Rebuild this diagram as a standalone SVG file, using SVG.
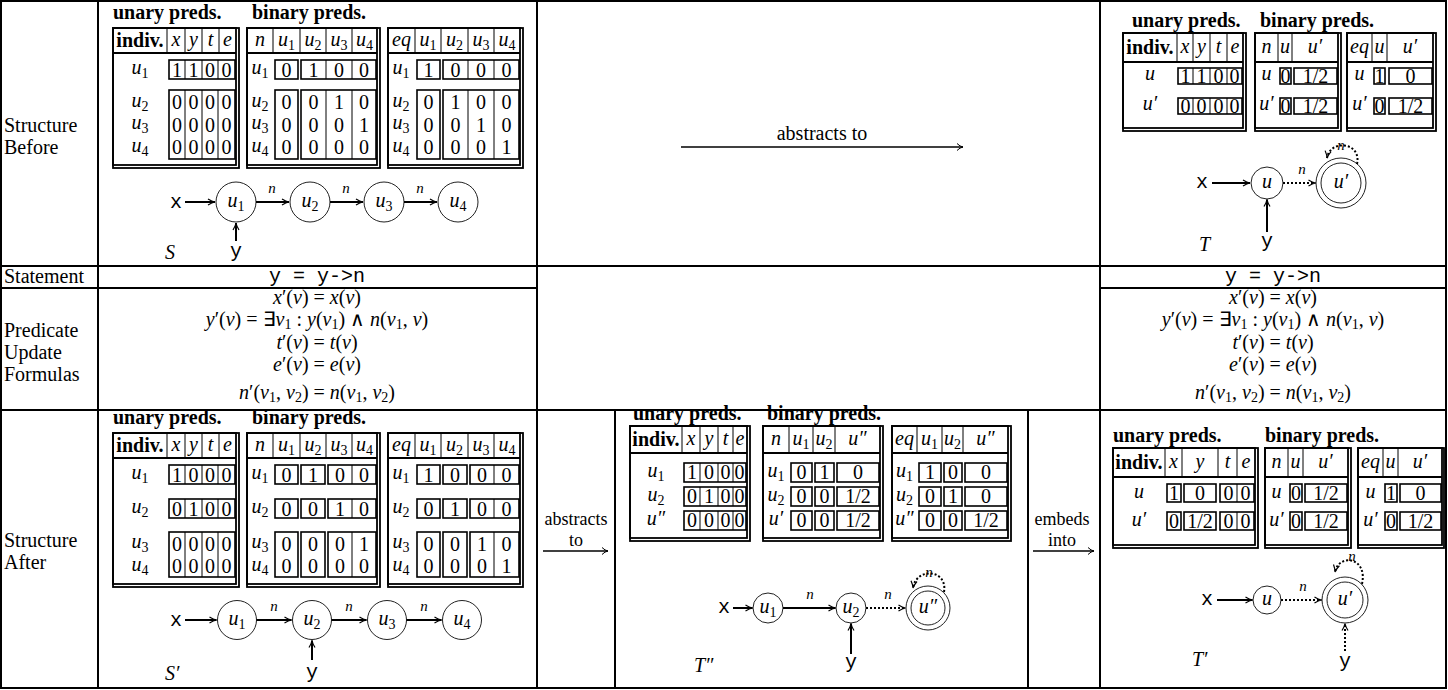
<svg xmlns="http://www.w3.org/2000/svg" width="1448" height="690" viewBox="0 0 1448 690">
<defs>
<style>
text{font-family:"Liberation Serif","Times New Roman",serif;font-size:20px;fill:#000}
.b{font-weight:bold}
.i{font-style:italic}
.s{font-style:normal;font-size:70%}
.m{font-family:"Liberation Mono","Courier New",monospace}
.c{text-anchor:middle}
.grid{stroke:#000;stroke-width:2;fill:none}
.tb{stroke:#000;stroke-width:1.8;fill:none}
.th{stroke:#000;stroke-width:1;fill:none}
.cell{stroke:#000;stroke-width:1.6;fill:none}
.node{stroke:#222;stroke-width:1;fill:#fff}
.edge{stroke:#000;stroke-width:2;fill:none;marker-end:url(#ah)}
.dot{stroke:#000;stroke-width:2;fill:none;stroke-dasharray:2 2;marker-end:url(#ah)}
.arr{stroke:#000;stroke-width:1.3;fill:none;marker-end:url(#ah2)}
.lbl{font-style:italic;font-size:15px;text-anchor:middle}
.tl{font-size:18px;text-anchor:middle}
</style>
<marker id="ah" markerUnits="userSpaceOnUse" markerWidth="10" markerHeight="10" viewBox="0 0 10 10" refX="9" refY="5" orient="auto"><path d="M2,2 Q6,4.5 9,5 Q6,5.5 2,8" fill="none" stroke="#000" stroke-width="1.2" stroke-dasharray="none"/></marker>
<marker id="ah2" markerUnits="userSpaceOnUse" markerWidth="10" markerHeight="10" viewBox="0 0 10 10" refX="9" refY="5" orient="auto"><path d="M3,1.5 Q6,4.5 9,5 Q6,5.5 3,8.5" fill="none" stroke="#000" stroke-width="1"/></marker>
</defs>
<rect width="1448" height="690" fill="#fff"/>

<g id="grid" class="grid">
<rect x="1" y="1" width="1445" height="687"/>
<path d="M98,1V688M537,1V688M1100,1V688M615,410V688M1028,410V688M1,266H1446M1,288H537M1100,288H1446M1,410H1446"/>
</g>

<g id="row-labels">
<text x="4" y="132">Structure</text>
<text x="4" y="154">Before</text>
<text x="4" y="283">Statement</text>
<text x="4" y="337">Predicate</text>
<text x="4" y="359">Update</text>
<text x="4" y="381">Formulas</text>
<text x="4" y="547">Structure</text>
<text x="4" y="569">After</text>
</g>

<g id="statement-left"><text class="m c" x="317" y="282">y = y-&gt;n</text></g>
<g id="statement-right"><text class="m c" x="1273" y="282">y = y-&gt;n</text></g>

<g id="formulas-left">
<text class="c" x="317" y="304"><tspan class="i">x</tspan>′(<tspan class="i">v</tspan>) = <tspan class="i">x</tspan>(<tspan class="i">v</tspan>)</text>
<text class="c" x="317" y="326"><tspan class="i">y</tspan>′(<tspan class="i">v</tspan>) = ∃<tspan class="i">v</tspan><tspan class="s" dy="3">1</tspan><tspan dy="-3"> : </tspan><tspan class="i">y</tspan>(<tspan class="i">v</tspan><tspan class="s" dy="3">1</tspan><tspan dy="-3">) ∧ </tspan><tspan class="i">n</tspan>(<tspan class="i">v</tspan><tspan class="s" dy="3">1</tspan><tspan dy="-3">, </tspan><tspan class="i">v</tspan>)</text>
<text class="c" x="317" y="349"><tspan class="i">t</tspan>′(<tspan class="i">v</tspan>) = <tspan class="i">t</tspan>(<tspan class="i">v</tspan>)</text>
<text class="c" x="317" y="371"><tspan class="i">e</tspan>′(<tspan class="i">v</tspan>) = <tspan class="i">e</tspan>(<tspan class="i">v</tspan>)</text>
<text class="c" x="317" y="399"><tspan class="i">n</tspan>′(<tspan class="i">v</tspan><tspan class="s" dy="3">1</tspan><tspan dy="-3">, </tspan><tspan class="i">v</tspan><tspan class="s" dy="3">2</tspan><tspan dy="-3">) = </tspan><tspan class="i">n</tspan>(<tspan class="i">v</tspan><tspan class="s" dy="3">1</tspan><tspan dy="-3">, </tspan><tspan class="i">v</tspan><tspan class="s" dy="3">2</tspan><tspan dy="-3">)</tspan></text>
</g>
<g id="formulas-right">
<text class="c" x="1273" y="304"><tspan class="i">x</tspan>′(<tspan class="i">v</tspan>) = <tspan class="i">x</tspan>(<tspan class="i">v</tspan>)</text>
<text class="c" x="1273" y="326"><tspan class="i">y</tspan>′(<tspan class="i">v</tspan>) = ∃<tspan class="i">v</tspan><tspan class="s" dy="3">1</tspan><tspan dy="-3"> : </tspan><tspan class="i">y</tspan>(<tspan class="i">v</tspan><tspan class="s" dy="3">1</tspan><tspan dy="-3">) ∧ </tspan><tspan class="i">n</tspan>(<tspan class="i">v</tspan><tspan class="s" dy="3">1</tspan><tspan dy="-3">, </tspan><tspan class="i">v</tspan>)</text>
<text class="c" x="1273" y="349"><tspan class="i">t</tspan>′(<tspan class="i">v</tspan>) = <tspan class="i">t</tspan>(<tspan class="i">v</tspan>)</text>
<text class="c" x="1273" y="371"><tspan class="i">e</tspan>′(<tspan class="i">v</tspan>) = <tspan class="i">e</tspan>(<tspan class="i">v</tspan>)</text>
<text class="c" x="1273" y="399"><tspan class="i">n</tspan>′(<tspan class="i">v</tspan><tspan class="s" dy="3">1</tspan><tspan dy="-3">, </tspan><tspan class="i">v</tspan><tspan class="s" dy="3">2</tspan><tspan dy="-3">) = </tspan><tspan class="i">n</tspan>(<tspan class="i">v</tspan><tspan class="s" dy="3">1</tspan><tspan dy="-3">, </tspan><tspan class="i">v</tspan><tspan class="s" dy="3">2</tspan><tspan dy="-3">)</tspan></text>
</g>

<!-- ===== S tables ===== -->
<g id="S-unary">
<text class="b" x="113" y="19" font-size="21">unary preds.</text>
<rect class="tb" x="113" y="28" width="123" height="137"/><rect class="tb" x="113" y="28" width="126" height="140"/>
<path class="tb" d="M113,53H236"/>
<path class="th" d="M167,28V53M185,28V53M202,28V53M219,28V53"/>
<text class="b c" x="140" y="47">indiv.</text>
<text class="i c" x="176 193.5 210.5 227.5" y="46">xyte</text>
<text class="i c" x="140" y="74">u<tspan class="s" dy="4">1</tspan></text>
<text class="i c" x="140" y="106.5">u<tspan class="s" dy="4">2</tspan></text>
<text class="i c" x="140" y="129">u<tspan class="s" dy="4">3</tspan></text>
<text class="i c" x="140" y="151.5">u<tspan class="s" dy="4">4</tspan></text>
<rect class="cell" x="169" y="60" width="66" height="19"/><rect class="cell" x="169" y="90" width="66" height="69"/>
<path class="th" d="M185,60V79M202,60V79M218,60V79M185,90V159M202,90V159M218,90V159"/>
<text class="c" x="177 193.5 210 226.5" y="76.5">1100</text>
<text class="c" x="177 193.5 210 226.5" y="109">0000</text>
<text class="c" x="177 193.5 210 226.5" y="131.5">0000</text>
<text class="c" x="177 193.5 210 226.5" y="154">0000</text>
</g>
<g id="S-n">
<text class="b" x="252" y="19" font-size="21">binary preds.</text>
<rect class="tb" x="247" y="28" width="130" height="137"/><rect class="tb" x="247" y="28" width="133" height="140"/>
<path class="tb" d="M247,53H377"/>
<path class="th" d="M273,28V53M300,28V53M326,28V53M352,28V53"/>
<text class="i c" x="260" y="46">n</text>
<text class="i c" x="286.5" y="46">u<tspan class="s" dy="4">1</tspan></text>
<text class="i c" x="313" y="46">u<tspan class="s" dy="4">2</tspan></text>
<text class="i c" x="339" y="46">u<tspan class="s" dy="4">3</tspan></text>
<text class="i c" x="364.5" y="46">u<tspan class="s" dy="4">4</tspan></text>
<text class="i c" x="260" y="74">u<tspan class="s" dy="4">1</tspan></text>
<text class="i c" x="260" y="106.5">u<tspan class="s" dy="4">2</tspan></text>
<text class="i c" x="260" y="129">u<tspan class="s" dy="4">3</tspan></text>
<text class="i c" x="260" y="151.5">u<tspan class="s" dy="4">4</tspan></text>
<rect class="cell" x="275" y="60" width="23" height="19"/><rect class="cell" x="275" y="90" width="23" height="69"/>
<rect class="cell" x="301" y="60" width="75" height="19"/><rect class="cell" x="301" y="90" width="75" height="69"/>
<path class="th" d="M326,60V79M352,60V79M326,90V159M352,90V159"/>
<text class="c" x="286.5 313.5 339 364" y="76.5">0100</text>
<text class="c" x="286.5 313.5 339 364" y="109">0010</text>
<text class="c" x="286.5 313.5 339 364" y="131.5">0001</text>
<text class="c" x="286.5 313.5 339 364" y="154">0000</text>
</g>
<g id="S-eq">
<rect class="tb" x="388" y="28" width="132" height="137"/><rect class="tb" x="388" y="28" width="135" height="140"/>
<path class="tb" d="M388,53H520"/>
<path class="th" d="M415,28V53M441,28V53M468,28V53M494,28V53"/>
<text class="i c" x="401.5" y="46">eq</text>
<text class="i c" x="428" y="46">u<tspan class="s" dy="4">1</tspan></text>
<text class="i c" x="454.5" y="46">u<tspan class="s" dy="4">2</tspan></text>
<text class="i c" x="481" y="46">u<tspan class="s" dy="4">3</tspan></text>
<text class="i c" x="507" y="46">u<tspan class="s" dy="4">4</tspan></text>
<text class="i c" x="401" y="74">u<tspan class="s" dy="4">1</tspan></text>
<text class="i c" x="401" y="106.5">u<tspan class="s" dy="4">2</tspan></text>
<text class="i c" x="401" y="129">u<tspan class="s" dy="4">3</tspan></text>
<text class="i c" x="401" y="151.5">u<tspan class="s" dy="4">4</tspan></text>
<rect class="cell" x="417" y="60" width="23" height="19"/><rect class="cell" x="417" y="90" width="23" height="69"/>
<rect class="cell" x="443" y="60" width="76" height="19"/><rect class="cell" x="443" y="90" width="76" height="69"/>
<path class="th" d="M468,60V79M494,60V79M468,90V159M494,90V159"/>
<text class="c" x="428.5 455.5 481 506.5" y="76.5">1000</text>
<text class="c" x="428.5 455.5 481 506.5" y="109">0100</text>
<text class="c" x="428.5 455.5 481 506.5" y="131.5">0010</text>
<text class="c" x="428.5 455.5 481 506.5" y="154">0001</text>
</g>

<!-- ===== S' tables ===== -->
<g id="Sp-unary">
<text class="b" x="113" y="424" font-size="21">unary preds.</text>
<rect class="tb" x="113" y="433" width="123" height="151"/><rect class="tb" x="113" y="433" width="126" height="154"/>
<path class="tb" d="M113,458H236"/>
<path class="th" d="M167,433V458M185,433V458M202,433V458M219,433V458"/>
<text class="b c" x="140" y="452">indiv.</text>
<text class="i c" x="176 193.5 210.5 227.5" y="451">xyte</text>
<text class="i c" x="140" y="479">u<tspan class="s" dy="4">1</tspan></text>
<text class="i c" x="140" y="513">u<tspan class="s" dy="4">2</tspan></text>
<text class="i c" x="140" y="548">u<tspan class="s" dy="4">3</tspan></text>
<text class="i c" x="140" y="570.5">u<tspan class="s" dy="4">4</tspan></text>
<rect class="cell" x="169" y="465" width="66" height="19"/><rect class="cell" x="169" y="499" width="66" height="19"/><rect class="cell" x="169" y="532" width="66" height="45"/>
<path class="th" d="M185,465V484M202,465V484M218,465V484M185,499V518M202,499V518M218,499V518M185,532V577M202,532V577M218,532V577"/>
<text class="c" x="177 193.5 210 226.5" y="481.5">1000</text>
<text class="c" x="177 193.5 210 226.5" y="515.5">0100</text>
<text class="c" x="177 193.5 210 226.5" y="550.5">0000</text>
<text class="c" x="177 193.5 210 226.5" y="573">0000</text>
</g>
<g id="Sp-n">
<text class="b" x="252" y="424" font-size="21">binary preds.</text>
<rect class="tb" x="247" y="433" width="130" height="151"/><rect class="tb" x="247" y="433" width="133" height="154"/>
<path class="tb" d="M247,458H377"/>
<path class="th" d="M273,433V458M300,433V458M326,433V458M352,433V458"/>
<text class="i c" x="260" y="451">n</text>
<text class="i c" x="286.5" y="451">u<tspan class="s" dy="4">1</tspan></text>
<text class="i c" x="313" y="451">u<tspan class="s" dy="4">2</tspan></text>
<text class="i c" x="339" y="451">u<tspan class="s" dy="4">3</tspan></text>
<text class="i c" x="364.5" y="451">u<tspan class="s" dy="4">4</tspan></text>
<text class="i c" x="260" y="479">u<tspan class="s" dy="4">1</tspan></text>
<text class="i c" x="260" y="513">u<tspan class="s" dy="4">2</tspan></text>
<text class="i c" x="260" y="548">u<tspan class="s" dy="4">3</tspan></text>
<text class="i c" x="260" y="570.5">u<tspan class="s" dy="4">4</tspan></text>
<rect class="cell" x="275" y="465" width="23" height="19"/><rect class="cell" x="301" y="465" width="24" height="19"/><rect class="cell" x="328" y="465" width="48" height="19"/>
<rect class="cell" x="275" y="499" width="23" height="19"/><rect class="cell" x="301" y="499" width="24" height="19"/><rect class="cell" x="328" y="499" width="48" height="19"/>
<rect class="cell" x="275" y="532" width="23" height="45"/><rect class="cell" x="301" y="532" width="24" height="45"/><rect class="cell" x="328" y="532" width="48" height="45"/>
<path class="th" d="M352,465V484M352,499V518M352,532V577"/>
<text class="c" x="286.5 313 340 364" y="481.5">0100</text>
<text class="c" x="286.5 313 340 364" y="515.5">0010</text>
<text class="c" x="286.5 313 340 364" y="550.5">0001</text>
<text class="c" x="286.5 313 340 364" y="573">0000</text>
</g>
<g id="Sp-eq">
<rect class="tb" x="388" y="433" width="132" height="151"/><rect class="tb" x="388" y="433" width="135" height="154"/>
<path class="tb" d="M388,458H520"/>
<path class="th" d="M415,433V458M441,433V458M468,433V458M494,433V458"/>
<text class="i c" x="401.5" y="451">eq</text>
<text class="i c" x="428" y="451">u<tspan class="s" dy="4">1</tspan></text>
<text class="i c" x="454.5" y="451">u<tspan class="s" dy="4">2</tspan></text>
<text class="i c" x="481" y="451">u<tspan class="s" dy="4">3</tspan></text>
<text class="i c" x="507" y="451">u<tspan class="s" dy="4">4</tspan></text>
<text class="i c" x="401" y="479">u<tspan class="s" dy="4">1</tspan></text>
<text class="i c" x="401" y="513">u<tspan class="s" dy="4">2</tspan></text>
<text class="i c" x="401" y="548">u<tspan class="s" dy="4">3</tspan></text>
<text class="i c" x="401" y="570.5">u<tspan class="s" dy="4">4</tspan></text>
<rect class="cell" x="417" y="465" width="23" height="19"/><rect class="cell" x="443" y="465" width="24" height="19"/><rect class="cell" x="470" y="465" width="49" height="19"/>
<rect class="cell" x="417" y="499" width="23" height="19"/><rect class="cell" x="443" y="499" width="24" height="19"/><rect class="cell" x="470" y="499" width="49" height="19"/>
<rect class="cell" x="417" y="532" width="23" height="45"/><rect class="cell" x="443" y="532" width="24" height="45"/><rect class="cell" x="470" y="532" width="49" height="45"/>
<path class="th" d="M494,465V484M494,499V518M494,532V577"/>
<text class="c" x="428.5 455 482 506.5" y="481.5">1000</text>
<text class="c" x="428.5 455 482 506.5" y="515.5">0100</text>
<text class="c" x="428.5 455 482 506.5" y="550.5">0010</text>
<text class="c" x="428.5 455 482 506.5" y="573">0001</text>
</g>

<!-- ===== T tables ===== -->
<g id="T-unary" font-size="19">
<text class="b" x="1132" y="27" font-size="19.5">unary preds.</text>
<rect class="tb" x="1123" y="33" width="120" height="95"/><rect class="tb" x="1123" y="33" width="123" height="98"/>
<path class="tb" d="M1123,62H1243"/>
<path class="th" d="M1177,33V62M1193,33V62M1210,33V62M1227,33V62"/>
<text class="b c" x="1150" y="54" font-size="19">indiv.</text>
<text class="i c" x="1185 1201.5 1218.5 1235" y="53" font-size="19">xyte</text>
<text class="i c" x="1150" y="80" font-size="19">u</text>
<text class="i c" x="1150" y="110" font-size="19">u′</text>
<rect class="cell" x="1178" y="68" width="64" height="16"/><rect class="cell" x="1178" y="98" width="64" height="16"/>
<path class="th" d="M1193,68V84M1210,68V84M1227,68V84M1193,98V114M1210,98V114M1227,98V114"/>
<text class="c" x="1185.5 1201.5 1218.5 1234.5" y="82.5" font-size="19">1100</text>
<text class="c" x="1185.5 1201.5 1218.5 1234.5" y="112.5" font-size="19">0000</text>
</g>
<g id="T-n">
<text class="b" x="1260" y="27" font-size="19.5">binary preds.</text>
<rect class="tb" x="1255" y="33" width="83" height="95"/><rect class="tb" x="1255" y="33" width="86" height="98"/>
<path class="tb" d="M1255,62H1338"/>
<path class="th" d="M1278,33V62M1292,33V62"/>
<text class="i c" x="1266.5" y="53" font-size="19">n</text>
<text class="i c" x="1285" y="53" font-size="19">u</text>
<text class="i c" x="1315" y="53" font-size="19">u′</text>
<text class="i c" x="1266.5" y="80" font-size="19">u</text>
<text class="i c" x="1266.5" y="110" font-size="19">u′</text>
<rect class="cell" x="1280" y="68" width="11" height="16"/><rect class="cell" x="1294" y="68" width="43" height="16"/>
<rect class="cell" x="1280" y="98" width="11" height="16"/><rect class="cell" x="1294" y="98" width="43" height="16"/>
<text class="c" x="1285.5" y="82.5" font-size="19">0</text><text class="c" x="1315.5" y="82.5" font-size="19">1/2</text>
<text class="c" x="1285.5" y="112.5" font-size="19">0</text><text class="c" x="1315.5" y="112.5" font-size="19">1/2</text>
</g>
<g id="T-eq">
<rect class="tb" x="1347" y="33" width="86" height="95"/><rect class="tb" x="1347" y="33" width="89" height="98"/>
<path class="tb" d="M1347,62H1433"/>
<path class="th" d="M1372,33V62M1387,33V62"/>
<text class="i c" x="1359.5" y="53" font-size="19">eq</text>
<text class="i c" x="1379.5" y="53" font-size="19">u</text>
<text class="i c" x="1410" y="53" font-size="19">u′</text>
<text class="i c" x="1359.5" y="80" font-size="19">u</text>
<text class="i c" x="1359.5" y="110" font-size="19">u′</text>
<rect class="cell" x="1374" y="68" width="11" height="16"/><rect class="cell" x="1389" y="68" width="43" height="16"/>
<rect class="cell" x="1374" y="98" width="11" height="16"/><rect class="cell" x="1389" y="98" width="43" height="16"/>
<text class="c" x="1379.5" y="82.5" font-size="19">1</text><text class="c" x="1410.5" y="82.5" font-size="19">0</text>
<text class="c" x="1379.5" y="112.5" font-size="19">0</text><text class="c" x="1410.5" y="112.5" font-size="19">1/2</text>
</g>

<!-- ===== T'' tables ===== -->
<g id="Tpp-unary">
<text class="b" x="633" y="420" font-size="19">unary preds.</text>
<rect class="tb" x="630" y="426" width="117" height="112"/><rect class="tb" x="630" y="426" width="120" height="115"/>
<path class="tb" d="M630,453H747"/>
<path class="th" d="M682,426V453M700,426V453M718,426V453M733,426V453"/>
<text class="b c" x="656" y="446" font-size="18.5">indiv.</text>
<text class="i c" x="691 709 725.5 740" y="445" font-size="18.5">xyte</text>
<text class="i c" x="656" y="476.5" font-size="18.5">u<tspan class="s" dy="4">1</tspan></text>
<text class="i c" x="656" y="500.5" font-size="18.5">u<tspan class="s" dy="4">2</tspan></text>
<text class="i c" x="656" y="524.5" font-size="18.5">u″</text>
<rect class="cell" x="684" y="463" width="62" height="19"/><rect class="cell" x="684" y="487" width="62" height="19"/><rect class="cell" x="684" y="511" width="62" height="19"/>
<path class="th" d="M700,463V482M718,463V482M733,463V482M700,487V506M718,487V506M733,487V506M700,511V530M718,511V530M733,511V530"/>
<text class="c" x="692 709 725.5 739.5" y="479" font-size="18.5">1000</text>
<text class="c" x="692 709 725.5 739.5" y="503" font-size="18.5">0100</text>
<text class="c" x="692 709 725.5 739.5" y="527" font-size="18.5">0000</text>
</g>
<g id="Tpp-n">
<text class="b" x="767" y="420" font-size="19">binary preds.</text>
<rect class="tb" x="763" y="426" width="117" height="112"/><rect class="tb" x="763" y="426" width="120" height="115"/>
<path class="tb" d="M763,453H880"/>
<path class="th" d="M789,426V453M813,426V453M835,426V453"/>
<text class="i c" x="776" y="445" font-size="18.5">n</text>
<text class="i c" x="801" y="445" font-size="18.5">u<tspan class="s" dy="4">1</tspan></text>
<text class="i c" x="824" y="445" font-size="18.5">u<tspan class="s" dy="4">2</tspan></text>
<text class="i c" x="857.5" y="445" font-size="18.5">u″</text>
<text class="i c" x="776" y="476.5" font-size="18.5">u<tspan class="s" dy="4">1</tspan></text>
<text class="i c" x="776" y="500.5" font-size="18.5">u<tspan class="s" dy="4">2</tspan></text>
<text class="i c" x="776" y="524.5" font-size="18.5">u′</text>
<rect class="cell" x="791" y="463" width="21" height="19"/><rect class="cell" x="815" y="463" width="19" height="19"/><rect class="cell" x="837" y="463" width="42" height="19"/>
<rect class="cell" x="791" y="487" width="21" height="19"/><rect class="cell" x="815" y="487" width="19" height="19"/><rect class="cell" x="837" y="487" width="42" height="19"/>
<rect class="cell" x="791" y="511" width="21" height="19"/><rect class="cell" x="815" y="511" width="19" height="19"/><rect class="cell" x="837" y="511" width="42" height="19"/>
<text class="c" x="801.5 824.5 858" y="479" font-size="18.5">010</text>
<text class="c" x="801.5 824.5" y="503" font-size="18.5">00</text><text class="c" x="858" y="503" font-size="18.5">1/2</text>
<text class="c" x="801.5 824.5" y="527" font-size="18.5">00</text><text class="c" x="858" y="527" font-size="18.5">1/2</text>
</g>
<g id="Tpp-eq">
<rect class="tb" x="892" y="426" width="116" height="112"/><rect class="tb" x="892" y="426" width="119" height="115"/>
<path class="tb" d="M892,453H1008"/>
<path class="th" d="M917,426V453M942,426V453M963,426V453"/>
<text class="i c" x="904.5" y="445" font-size="18.5">eq</text>
<text class="i c" x="929.5" y="445" font-size="18.5">u<tspan class="s" dy="4">1</tspan></text>
<text class="i c" x="952.5" y="445" font-size="18.5">u<tspan class="s" dy="4">2</tspan></text>
<text class="i c" x="985.5" y="445" font-size="18.5">u″</text>
<text class="i c" x="904.5" y="476.5" font-size="18.5">u<tspan class="s" dy="4">1</tspan></text>
<text class="i c" x="904.5" y="500.5" font-size="18.5">u<tspan class="s" dy="4">2</tspan></text>
<text class="i c" x="904.5" y="524.5" font-size="18.5">u″</text>
<rect class="cell" x="919" y="463" width="22" height="19"/><rect class="cell" x="944" y="463" width="18" height="19"/><rect class="cell" x="965" y="463" width="42" height="19"/>
<rect class="cell" x="919" y="487" width="22" height="19"/><rect class="cell" x="944" y="487" width="18" height="19"/><rect class="cell" x="965" y="487" width="42" height="19"/>
<rect class="cell" x="919" y="511" width="22" height="19"/><rect class="cell" x="944" y="511" width="18" height="19"/><rect class="cell" x="965" y="511" width="42" height="19"/>
<text class="c" x="930 953 986" y="479" font-size="18.5">100</text>
<text class="c" x="930 953 986" y="503" font-size="18.5">010</text>
<text class="c" x="930 953" y="527" font-size="18.5">00</text><text class="c" x="986" y="527" font-size="18.5">1/2</text>
</g>

<!-- ===== T' tables ===== -->
<g id="Tp-unary">
<text class="b" x="1113" y="442">unary preds.</text>
<rect class="tb" x="1113" y="448" width="142" height="97"/><rect class="tb" x="1113" y="448" width="145" height="100"/>
<path class="tb" d="M1113,477H1255"/>
<path class="th" d="M1165,448V477M1182,448V477M1218,448V477M1237,448V477"/>
<text class="b c" x="1139" y="469">indiv.</text>
<text class="i c" x="1173.5 1200 1227.5 1246" y="468">xyte</text>
<text class="i c" x="1139" y="497.5">u</text>
<text class="i c" x="1139" y="525.5">u′</text>
<rect class="cell" x="1167" y="484" width="14" height="18"/><rect class="cell" x="1184" y="484" width="32" height="18"/><rect class="cell" x="1220" y="484" width="34" height="18"/>
<rect class="cell" x="1167" y="512" width="14" height="18"/><rect class="cell" x="1184" y="512" width="32" height="18"/><rect class="cell" x="1220" y="512" width="34" height="18"/>
<path class="th" d="M1237,484V502M1237,512V530"/>
<text class="c" x="1174 1200 1228.5 1245.5" y="500">1000</text>
<text class="c" x="1174" y="528">0</text><text class="c" x="1200" y="528">1/2</text><text class="c" x="1228.5 1245.5" y="528">00</text>
</g>
<g id="Tp-n">
<text class="b" x="1265" y="442">binary preds.</text>
<rect class="tb" x="1265" y="448" width="83" height="97"/><rect class="tb" x="1265" y="448" width="86" height="100"/>
<path class="tb" d="M1265,477H1348"/>
<path class="th" d="M1288,448V477M1303,448V477"/>
<text class="i c" x="1276.5" y="468">n</text>
<text class="i c" x="1295.5" y="468">u</text>
<text class="i c" x="1325.5" y="468">u′</text>
<text class="i c" x="1276.5" y="497.5">u</text>
<text class="i c" x="1276.5" y="525.5">u′</text>
<rect class="cell" x="1290" y="484" width="12" height="18"/><rect class="cell" x="1305" y="484" width="42" height="18"/>
<rect class="cell" x="1290" y="512" width="12" height="18"/><rect class="cell" x="1305" y="512" width="42" height="18"/>
<text class="c" x="1296" y="500">0</text><text class="c" x="1326" y="500">1/2</text>
<text class="c" x="1296" y="528">0</text><text class="c" x="1326" y="528">1/2</text>
</g>
<g id="Tp-eq">
<rect class="tb" x="1358" y="448" width="84" height="97"/><rect class="tb" x="1358" y="448" width="86" height="100"/>
<path class="tb" d="M1358,477H1442"/>
<path class="th" d="M1383,448V477M1398,448V477"/>
<text class="i c" x="1370.5" y="468">eq</text>
<text class="i c" x="1390.5" y="468">u</text>
<text class="i c" x="1420" y="468">u′</text>
<text class="i c" x="1370.5" y="497.5">u</text>
<text class="i c" x="1370.5" y="525.5">u′</text>
<rect class="cell" x="1385" y="484" width="12" height="18"/><rect class="cell" x="1400" y="484" width="41" height="18"/>
<rect class="cell" x="1385" y="512" width="12" height="18"/><rect class="cell" x="1400" y="512" width="41" height="18"/>
<text class="c" x="1391" y="500">1</text><text class="c" x="1420.5" y="500">0</text>
<text class="c" x="1391" y="528">0</text><text class="c" x="1420.5" y="528">1/2</text>
</g>

<!-- ===== graph nodes ===== -->
<g id="S-graph">
<g id="S-x"><text class="m c" x="176" y="208">x</text></g>
<g id="S-u1"><circle class="node" cx="236" cy="202" r="20"/><text class="i c" x="236" y="207">u<tspan class="s" dy="4">1</tspan></text></g>
<g id="S-u2"><circle class="node" cx="310" cy="202" r="20"/><text class="i c" x="310" y="207">u<tspan class="s" dy="4">2</tspan></text></g>
<g id="S-u3"><circle class="node" cx="384" cy="202" r="20"/><text class="i c" x="384" y="207">u<tspan class="s" dy="4">3</tspan></text></g>
<g id="S-u4"><circle class="node" cx="458" cy="202" r="20"/><text class="i c" x="458" y="207">u<tspan class="s" dy="4">4</tspan></text></g>
<g id="S-y"><text class="m c" x="236" y="257">y</text></g>
<g id="S-name"><text class="i" x="165" y="259" font-size="22">S</text></g>
</g>
<g id="Sp-graph">
<g id="Sp-x"><text class="m c" x="176" y="626">x</text></g>
<g id="Sp-u1"><circle class="node" cx="237" cy="620" r="19.5"/><text class="i c" x="237" y="625">u<tspan class="s" dy="4">1</tspan></text></g>
<g id="Sp-u2"><circle class="node" cx="312" cy="620" r="19.5"/><text class="i c" x="312" y="625">u<tspan class="s" dy="4">2</tspan></text></g>
<g id="Sp-u3"><circle class="node" cx="387" cy="620" r="19.5"/><text class="i c" x="387" y="625">u<tspan class="s" dy="4">3</tspan></text></g>
<g id="Sp-u4"><circle class="node" cx="462" cy="620" r="19.5"/><text class="i c" x="462" y="625">u<tspan class="s" dy="4">4</tspan></text></g>
<g id="Sp-y"><text class="m c" x="312" y="678">y</text></g>
<g id="Sp-name"><text class="i" x="165" y="680" font-size="22">S′</text></g>
</g>
<g id="T-graph">
<g id="T-x"><text class="m c" x="1202" y="188">x</text></g>
<g id="T-u"><circle class="node" cx="1267" cy="183" r="16"/><text class="i c" x="1267" y="188">u</text></g>
<g id="T-up"><circle class="node" cx="1341" cy="183" r="25"/><circle class="node" cx="1341" cy="183" r="20"/><text class="i c" x="1341" y="188">u′</text></g>
<g id="T-y"><text class="m c" x="1267" y="247">y</text></g>
<g id="T-name"><text class="i" x="1199" y="251" font-size="21">T</text></g>
</g>
<g id="Tpp-graph">
<g id="Tpp-x"><text class="m c" x="724" y="613">x</text></g>
<g id="Tpp-u1"><circle class="node" cx="768" cy="608" r="15"/><text class="i c" x="768" y="613" font-size="18">u<tspan class="s" dy="4">1</tspan></text></g>
<g id="Tpp-u2"><circle class="node" cx="851" cy="608" r="15"/><text class="i c" x="851" y="613" font-size="18">u<tspan class="s" dy="4">2</tspan></text></g>
<g id="Tpp-upp"><circle class="node" cx="928" cy="608" r="22"/><circle class="node" cx="928" cy="608" r="17"/><text class="i c" x="928" y="613" font-size="18">u″</text></g>
<g id="Tpp-y"><text class="m c" x="851" y="668">y</text></g>
<g id="Tpp-name"><text class="i" x="694" y="672" font-size="21">T″</text></g>
</g>
<g id="Tp-graph">
<g id="Tp-x"><text class="m c" x="1207" y="605">x</text></g>
<g id="Tp-u"><circle class="node" cx="1267" cy="600" r="14"/><text class="i c" x="1267" y="605" font-size="18">u</text></g>
<g id="Tp-up"><circle class="node" cx="1345" cy="600" r="23"/><circle class="node" cx="1345" cy="600" r="18"/><text class="i c" x="1345" y="605" font-size="18">u′</text></g>
<g id="Tp-y"><text class="m c" x="1345" y="667">y</text></g>
<g id="Tp-name"><text class="i" x="1192" y="666" font-size="21">T′</text></g>
</g>

<g id="transitions">
<text class="c" x="822" y="140">abstracts to</text>
<text class="tl" x="576" y="525">abstracts</text>
<text class="tl" x="576" y="546">to</text>
<text class="tl" x="1062" y="525">embeds</text>
<text class="tl" x="1062" y="546">into</text>
</g>

<!-- ===== connectors ===== -->
<g id="connectors">
<line class="arr" x1="681" y1="147" x2="963" y2="147"/>
<line class="arr" x1="543" y1="551" x2="608" y2="551"/>
<line class="arr" x1="1033" y1="551" x2="1094" y2="551"/>
<line class="edge" x1="185" y1="202" x2="215" y2="202"/>
<line class="edge" x1="256" y1="202" x2="289" y2="202"/>
<line class="edge" x1="330" y1="202" x2="363" y2="202"/>
<line class="edge" x1="404" y1="202" x2="437" y2="202"/>
<line class="edge" x1="236" y1="241" x2="236" y2="223"/>
<text class="lbl" x="272" y="193">n</text><text class="lbl" x="346" y="193">n</text><text class="lbl" x="420" y="193">n</text>
<line class="edge" x1="185" y1="620" x2="216.5" y2="620"/>
<line class="edge" x1="256.5" y1="620" x2="291.5" y2="620"/>
<line class="edge" x1="331.5" y1="620" x2="366.5" y2="620"/>
<line class="edge" x1="406.5" y1="620" x2="441.5" y2="620"/>
<line class="edge" x1="312" y1="660" x2="312" y2="640.5"/>
<text class="lbl" x="274" y="611">n</text><text class="lbl" x="349" y="611">n</text><text class="lbl" x="424" y="611">n</text>
<line class="edge" x1="1212" y1="183" x2="1250" y2="183"/>
<line class="dot" x1="1283" y1="183" x2="1315.5" y2="183"/>
<path class="dot" d="M1357,164 C1362,142 1330,139 1327,158"/>
<line class="edge" x1="1267" y1="232" x2="1267" y2="199.5"/>
<text class="lbl" x="1302" y="174">n</text><text class="lbl" x="1341" y="150">n</text>
<line class="edge" x1="733" y1="608" x2="752.5" y2="608"/>
<line class="edge" x1="783" y1="608" x2="835.5" y2="608"/>
<line class="dot" x1="866" y1="608" x2="905.5" y2="608"/>
<path class="dot" d="M944,592 C948,569 916,567 913,588"/>
<line class="edge" x1="851" y1="654" x2="851" y2="623.5"/>
<text class="lbl" x="810" y="599">n</text><text class="lbl" x="888" y="599">n</text><text class="lbl" x="929" y="577">n</text>
<line class="edge" x1="1217" y1="600" x2="1252.5" y2="600"/>
<line class="dot" x1="1281" y1="600" x2="1321.5" y2="600"/>
<path class="dot" d="M1362,584 C1368,557 1339,553 1335,572"/>
<line class="dot" x1="1345" y1="651" x2="1345" y2="623.5"/>
<text class="lbl" x="1303" y="591">n</text><text class="lbl" x="1352" y="561">n</text>
</g>
</svg>
